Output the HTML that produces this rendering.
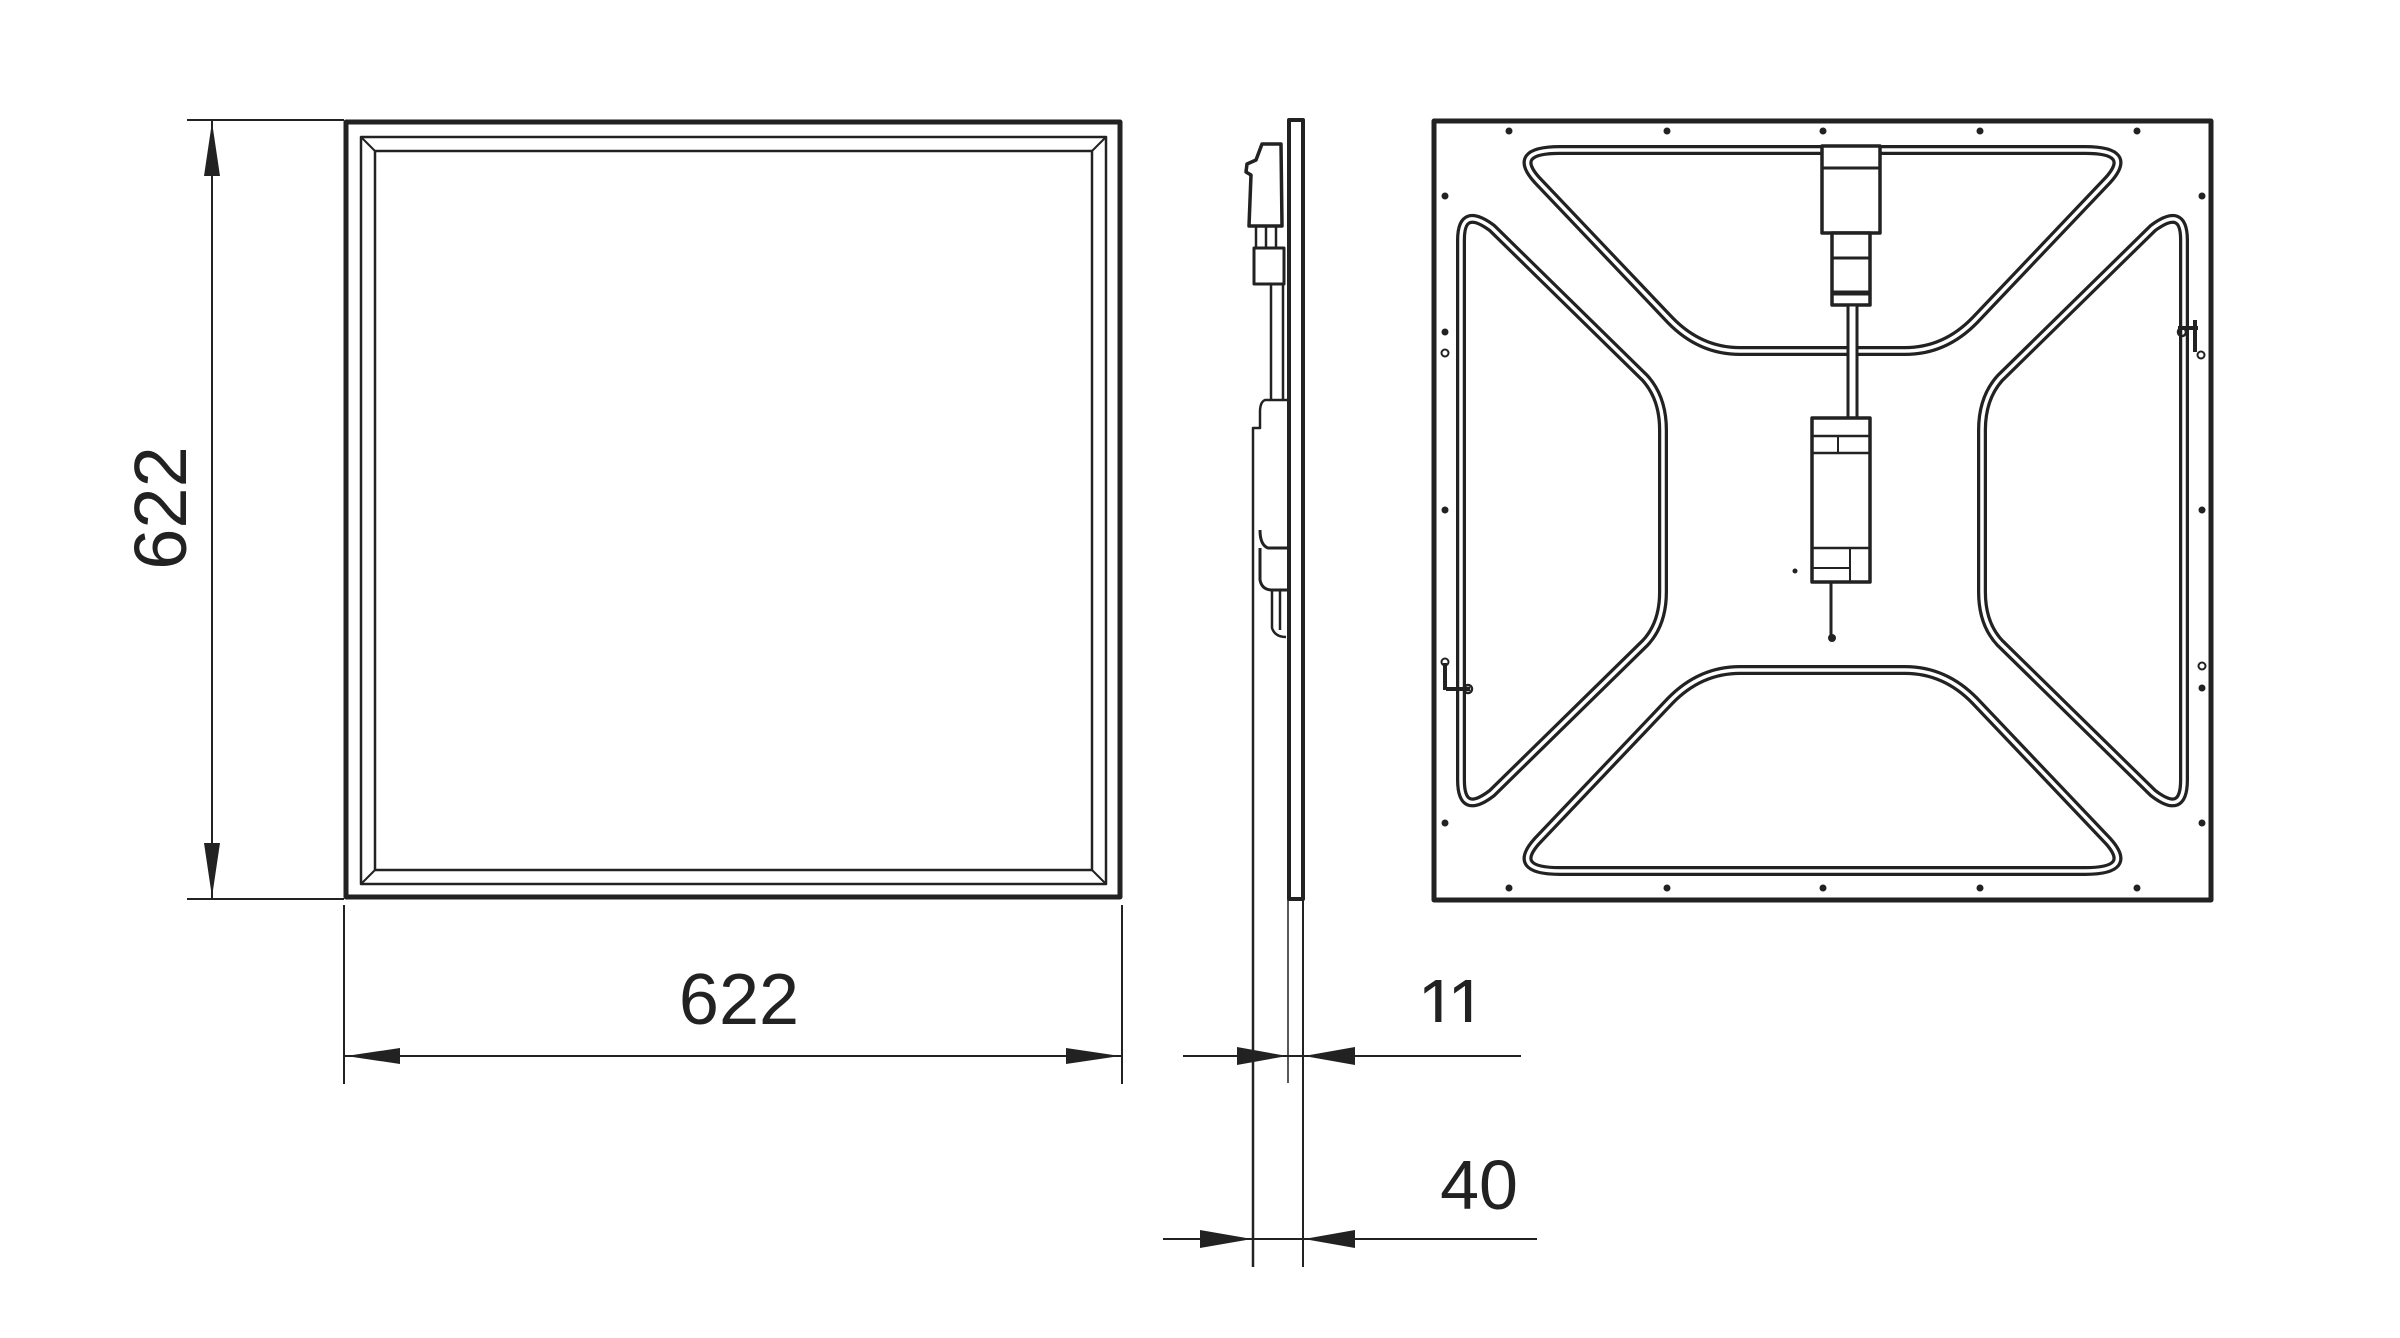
<!DOCTYPE html>
<html><head><meta charset="utf-8"><style>
html,body{margin:0;padding:0;background:#fff;}
svg{display:block;}
text{font-family:"Liberation Sans",sans-serif;fill:#222;}
</style></head><body>
<svg width="2400" height="1338" viewBox="0 0 2400 1338" xmlns="http://www.w3.org/2000/svg">
<defs>
  <clipPath id="c11"><rect x="1380" y="960" width="150" height="62"/></clipPath>
</defs>
<g fill="none" stroke="#222" stroke-linejoin="round">
  <!-- FRONT VIEW -->
  <rect x="346" y="122" width="774" height="775" stroke-width="5"/>
  <rect x="361" y="137" width="745" height="747" stroke-width="2.5"/>
  <rect x="375" y="151" width="717" height="719" stroke-width="2.5"/>
  <line x1="361" y1="137" x2="375" y2="151" stroke-width="2"/>
  <line x1="1106" y1="137" x2="1092" y2="151" stroke-width="2"/>
  <line x1="361" y1="884" x2="375" y2="870" stroke-width="2"/>
  <line x1="1106" y1="884" x2="1092" y2="870" stroke-width="2"/>

  <line x1="187" y1="120" x2="344" y2="120" stroke-width="2"/>
  <line x1="187" y1="899" x2="344" y2="899" stroke-width="2"/>
  <line x1="212" y1="120" x2="212" y2="899" stroke-width="2"/>
  <line x1="344" y1="905" x2="344" y2="1084" stroke-width="2"/>
  <line x1="1122" y1="905" x2="1122" y2="1084" stroke-width="2"/>
  <line x1="344" y1="1056" x2="1122" y2="1056" stroke-width="2"/>

  <!-- SIDE VIEW -->
  <rect x="1289" y="120" width="14" height="779" stroke-width="4"/>
  <path d="M1262,144 L1281,144 L1282,226 L1249,226 L1251,175 L1246,172 L1247,164 L1256,160 Z" stroke-width="3.5"/>
  <path d="M1256,226 L1256,248 M1266,226 L1266,248 M1276,226 L1276,248" stroke-width="2.5"/>
  <rect x="1254" y="248" width="30" height="36" stroke-width="3"/>
  <path d="M1271,284 L1271,400 M1283,284 L1283,400" stroke-width="2.5"/>
  <path d="M1287,400 L1265,400 Q1260,402 1260,412 L1260,428 L1253,428 L1253,1267" stroke-width="2.5"/>
  <path d="M1260,530 Q1260,545 1268,548 L1287,548 M1260,548 L1260,580 Q1262,590 1272,590 L1287,590" stroke-width="3"/>
  <path d="M1272,590 L1272,628 Q1275,637 1286,637 M1280,590 L1280,630" stroke-width="2.5"/>
  <line x1="1288" y1="899" x2="1288" y2="1083" stroke-width="1.5"/>
  <line x1="1303" y1="899" x2="1303" y2="1267" stroke-width="2"/>
  <line x1="1183" y1="1056" x2="1521" y2="1056" stroke-width="2"/>
  <line x1="1163" y1="1239" x2="1537" y2="1239" stroke-width="2"/>

  <!-- BACK VIEW -->
  <rect x="1434" y="121" width="777" height="779" stroke-width="5"/>
  <g stroke-width="10">
    <path d="M1560,150 L2085,150 Q2135,150 2108,180 L1975,320 Q1945,351 1905,351 L1740,351 Q1700,351 1670,320 L1537,180 Q1510,150 1560,150 Z"/>
    <path d="M1560,871 L2085,871 Q2135,871 2108,841 L1975,701 Q1945,670 1905,670 L1740,670 Q1700,670 1670,701 L1537,841 Q1510,871 1560,871 Z"/>
    <path d="M1461,780 L1461,240 Q1461,205 1492,228 L1645,378 Q1663,398 1663,430 L1663,592 Q1663,624 1645,643 L1492,793 Q1461,817 1461,780 Z"/>
    <path d="M2184,780 L2184,240 Q2184,205 2153,228 L2000,378 Q1982,398 1982,430 L1982,592 Q1982,624 2000,643 L2153,793 Q2184,817 2184,780 Z"/>
  </g>
  <g stroke="#fff" stroke-width="3.5">
    <path d="M1560,150 L2085,150 Q2135,150 2108,180 L1975,320 Q1945,351 1905,351 L1740,351 Q1700,351 1670,320 L1537,180 Q1510,150 1560,150 Z"/>
    <path d="M1560,871 L2085,871 Q2135,871 2108,841 L1975,701 Q1945,670 1905,670 L1740,670 Q1700,670 1670,701 L1537,841 Q1510,871 1560,871 Z"/>
    <path d="M1461,780 L1461,240 Q1461,205 1492,228 L1645,378 Q1663,398 1663,430 L1663,592 Q1663,624 1645,643 L1492,793 Q1461,817 1461,780 Z"/>
    <path d="M2184,780 L2184,240 Q2184,205 2153,228 L2000,378 Q1982,398 1982,430 L1982,592 Q1982,624 2000,643 L2153,793 Q2184,817 2184,780 Z"/>
  </g>
  <rect x="1822" y="146" width="58" height="87" fill="#fff" stroke-width="3.5"/>
  <line x1="1822" y1="168" x2="1880" y2="168" stroke-width="3"/>
  <rect x="1832" y="233" width="38" height="72" fill="#fff" stroke-width="3.5"/>
  <line x1="1832" y1="258" x2="1870" y2="258" stroke-width="3"/>
  <line x1="1832" y1="293" x2="1870" y2="293" stroke-width="5"/>
  <rect x="1848" y="305" width="9" height="113" fill="#fff" stroke-width="3"/>
  <rect x="1812" y="418" width="58" height="164" fill="#fff" stroke-width="3.5"/>
  <line x1="1812" y1="436" x2="1870" y2="436" stroke-width="2.5"/>
  <line x1="1838" y1="436" x2="1838" y2="453" stroke-width="2"/>
  <line x1="1812" y1="453" x2="1870" y2="453" stroke-width="2.5"/>
  <line x1="1812" y1="548" x2="1870" y2="548" stroke-width="2.5"/>
  <line x1="1850" y1="548" x2="1850" y2="582" stroke-width="2"/>
  <line x1="1812" y1="568" x2="1850" y2="568" stroke-width="2"/>
  <line x1="1831" y1="582" x2="1831" y2="635" stroke-width="3"/>
  <circle cx="1832" cy="638" r="4" fill="#222" stroke="none"/>
  <circle cx="1795" cy="571" r="2.5" fill="#222" stroke="none"/>
  <path d="M2178,328 L2198,328 M2195,320 L2195,352" stroke-width="4"/>
  <circle cx="2182" cy="332" r="4" stroke-width="2.5"/>
  <circle cx="2201" cy="355" r="3.5" stroke-width="2"/>
  <path d="M1445,663 L1445,690 M1446,689 L1470,689" stroke-width="4"/>
  <circle cx="1468" cy="689" r="4" stroke-width="2.5"/>
  <circle cx="1445" cy="662" r="3.5" stroke-width="2"/>
  <circle cx="1445" cy="353" r="3.5" stroke-width="2"/>
  <circle cx="2202" cy="666" r="3.5" stroke-width="2"/>
</g>
<g fill="#222">
  <circle cx="1509" cy="131" r="3.5"/><circle cx="1667" cy="131" r="3.5"/><circle cx="1823" cy="131" r="3.5"/><circle cx="1980" cy="131" r="3.5"/><circle cx="2137" cy="131" r="3.5"/>
  <circle cx="1509" cy="888" r="3.5"/><circle cx="1667" cy="888" r="3.5"/><circle cx="1823" cy="888" r="3.5"/><circle cx="1980" cy="888" r="3.5"/><circle cx="2137" cy="888" r="3.5"/>
  <circle cx="1445" cy="196" r="3.5"/><circle cx="1445" cy="332" r="3.5"/><circle cx="1445" cy="510" r="3.5"/><circle cx="1445" cy="823" r="3.5"/>
  <circle cx="2202" cy="196" r="3.5"/><circle cx="2202" cy="510" r="3.5"/><circle cx="2202" cy="688" r="3.5"/><circle cx="2202" cy="823" r="3.5"/>
</g>
<g fill="#222">
  <polygon points="212,122 204,176 220,176"/>
  <polygon points="212,897 204,843 220,843"/>
  <polygon points="346,1056 400,1048 400,1064"/>
  <polygon points="1120,1056 1066,1048 1066,1064"/>
  <polygon points="1287,1056 1237,1047 1237,1065"/>
  <polygon points="1304,1056 1355,1047 1355,1065"/>
  <polygon points="1252,1239 1200,1230 1200,1248"/>
  <polygon points="1304,1239 1355,1230 1355,1248"/>
</g>
<text x="739" y="1024" font-size="72" text-anchor="middle">622</text>
<text x="0" y="0" font-size="74" text-anchor="middle" transform="translate(186,508) rotate(-90)">622</text>
<text x="1450" y="1028" font-size="70" text-anchor="middle" letter-spacing="-4" clip-path="url(#c11)">11</text>
<text x="1479" y="1209" font-size="70" text-anchor="middle">40</text>
</svg>
</body></html>
